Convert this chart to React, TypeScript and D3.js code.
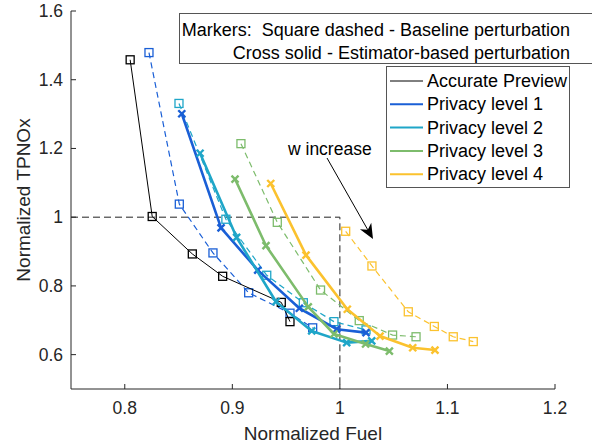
import React from "react";
import * as d3 from "d3";

// chart values
const accurateFuel = [0.805, 0.8255, 0.8628, 0.891, 0.9455, 0.9536];
const accurateTpnox = [1.458, 1.002, 0.893, 0.828, 0.752, 0.696];

const baseFuel1 = [0.8225, 0.8507, 0.882, 0.9152, 0.9536, 0.9747];
const baseTpnox1 = [1.479, 1.038, 0.896, 0.78, 0.7206, 0.678];
const estFuel1 = [0.853, 0.8895, 0.9236, 0.9623, 0.997, 1.0243];
const estTpnox1 = [1.301, 0.969, 0.846, 0.735, 0.674, 0.664];

const baseFuel2 = [0.8504, 0.894, 0.932, 0.966, 0.9945, 1.0243];
const baseTpnox2 = [1.331, 0.994, 0.831, 0.751, 0.696, 0.672];
const estFuel2 = [0.87, 0.904, 0.9406, 0.9738, 1.0063, 1.0296];
const estTpnox2 = [1.186, 0.941, 0.754, 0.669, 0.635, 0.64];

const baseFuel3 = [0.908, 0.9418, 0.982, 1.018, 1.049, 1.0708];
const baseTpnox3 = [1.214, 0.985, 0.788, 0.699, 0.657, 0.652];
const estFuel3 = [0.9025, 0.9313, 0.9706, 0.9945, 1.0239, 1.046];
const estTpnox3 = [1.111, 0.917, 0.739, 0.66, 0.631, 0.6105];

const baseFuel4 = [1.0054, 1.0298, 1.0636, 1.0878, 1.1054, 1.124];
const baseTpnox4 = [0.959, 0.858, 0.7247, 0.682, 0.652, 0.638];
const estFuel4 = [0.9357, 0.9685, 1.0069, 1.0373, 1.0677, 1.0884];
const estTpnox4 = [1.098, 0.8895, 0.732, 0.654, 0.62, 0.6134];

const legendLabels = ["Accurate Preview", "Privacy level 1", "Privacy level 2", "Privacy level 3", "Privacy level 4"];
const xTicks = [0.8, 0.9, 1, 1.1, 1.2];
const yTicks = [0.6, 0.8, 1, 1.2, 1.4, 1.6];

const colors = ["#000000", "#1a5fd6", "#1fa6c8", "#7dbc6c", "#fbc22e"];

const zip = (xs: number[], ys: number[]) => xs.map((x, i) => [x, ys[i]] as [number, number]);

const levels = [
  { base: zip(baseFuel1, baseTpnox1), est: zip(estFuel1, estTpnox1), color: colors[1] },
  { base: zip(baseFuel2, baseTpnox2), est: zip(estFuel2, estTpnox2), color: colors[2] },
  { base: zip(baseFuel3, baseTpnox3), est: zip(estFuel3, estTpnox3), color: colors[3] },
  { base: zip(baseFuel4, baseTpnox4), est: zip(estFuel4, estTpnox4), color: colors[4] },
];
const accurate = zip(accurateFuel, accurateTpnox);

const font = "'Liberation Sans', Arial, Helvetica, sans-serif";
const axisColor = "#262626";

export default function App() {
  const width = 592;
  const height = 446;

  const x = d3.scaleLinear().domain([0.75, 1.2]).range([71, 555]);
  const y = d3.scaleLinear().domain([0.5, 1.6]).range([389, 11]);

  const line = d3
    .line<[number, number]>()
    .x((d) => x(d[0]))
    .y((d) => y(d[1]));

  const square = (d: [number, number], color: string, key: string) => (
    <rect
      key={key}
      x={x(d[0]) - 4}
      y={y(d[1]) - 4}
      width={8}
      height={8}
      fill="none"
      stroke={color}
      strokeWidth={1.3}
    />
  );

  const cross = (d: [number, number], color: string, key: string) => (
    <path
      key={key}
      transform={`translate(${x(d[0])},${y(d[1])})`}
      d="M-3.5,-3.5L3.5,3.5M-3.5,3.5L3.5,-3.5"
      stroke={color}
      strokeWidth={2.4}
      fill="none"
    />
  );

  // arrow for "w increase"
  const ax0 = 327, ay0 = 158, ax1 = 373, ay1 = 239;
  const ang = Math.atan2(ay1 - ay0, ax1 - ax0);
  const hl = 15, hw = 6.5;
  const bx = ax1 - hl * Math.cos(ang), by = ay1 - hl * Math.sin(ang);
  const mx = ax1 - hl * 0.7 * Math.cos(ang), my = ay1 - hl * 0.7 * Math.sin(ang);
  const px = -Math.sin(ang), py = Math.cos(ang);
  const head = `M${ax1},${ay1}L${bx + px * hw},${by + py * hw}L${mx},${my}L${bx - px * hw},${by - py * hw}Z`;

  return (
    <svg
      width={width}
      height={height}
      style={{ position: "absolute", left: 0, top: 0, background: "#fff" }}
      fontFamily={font}
    >
      {/* threshold dashed lines */}
      <path
        d={`M${x(0.75)},${y(1)}H${x(1)}V${y(0.5)}`}
        fill="none"
        stroke="#222"
        strokeWidth={1}
        strokeDasharray="7,4"
      />

      {/* baseline perturbation: dashed with squares */}
      {levels.map((lv, i) => (
        <g key={"b" + i}>
          <path d={line(lv.base) || ""} fill="none" stroke={lv.color} strokeWidth={1.2} strokeDasharray="6,4" />
          {lv.base.map((d, j) => square(d, lv.color, "bs" + i + j))}
        </g>
      ))}

      {/* accurate preview */}
      <path d={line(accurate) || ""} fill="none" stroke="#000" strokeWidth={1} />
      {accurate.map((d, j) => square(d, "#000", "a" + j))}

      {/* estimator-based: solid with crosses */}
      {levels.map((lv, i) => (
        <g key={"e" + i}>
          <path d={line(lv.est) || ""} fill="none" stroke={lv.color} strokeWidth={2.6} strokeLinejoin="round" />
          {lv.est.map((d, j) => cross(d, lv.color, "ec" + i + j))}
        </g>
      ))}

      {/* axes */}
      <g fill={axisColor} fontSize={17.5}>
        <line x1={x(0.75)} x2={x(1.2)} y1={y(0.5)} y2={y(0.5)} stroke={axisColor} strokeWidth={1} />
        <line x1={x(0.75)} x2={x(0.75)} y1={y(0.5)} y2={y(1.6)} stroke={axisColor} strokeWidth={1} />
        {xTicks.map((t) => (
          <g key={"xt" + t}>
            <line x1={x(t)} x2={x(t)} y1={y(0.5)} y2={y(0.5) - 5} stroke={axisColor} />
            <text x={x(t)} y={y(0.5) + 25} textAnchor="middle">
              {d3.format("~g")(t)}
            </text>
          </g>
        ))}
        {yTicks.map((t) => (
          <g key={"yt" + t}>
            <line x1={x(0.75)} x2={x(0.75) + 5} y1={y(t)} y2={y(t)} stroke={axisColor} />
            <text x={x(0.75) - 8} y={y(t) + 6} textAnchor="end">
              {d3.format("~g")(t)}
            </text>
          </g>
        ))}
        <text x={313} y={440} textAnchor="middle" fontSize={19}>
          Normalized Fuel
        </text>
        <text transform={`translate(30,200) rotate(-90)`} textAnchor="middle" fontSize={19}>
          Normalized TPNOx
        </text>
      </g>

      {/* w increase annotation */}
      <text x={288} y={155} fontSize={17.5} fill="#000">
        w increase
      </text>
      <line x1={ax0} y1={ay0} x2={mx} y2={my} stroke="#000" strokeWidth={1} />
      <path d={head} fill="#000" />

      {/* markers note box */}
      <rect x={179.5} y={13.5} width={430} height={50} fill="#fff" stroke="#555" strokeWidth={1} />
      <text x={570} y={36} textAnchor="end" fontSize={18} fill="#000" xmlSpace="preserve">
        {"Markers:  Square dashed - Baseline perturbation"}
      </text>
      <text x={570} y={59} textAnchor="end" fontSize={18} fill="#000">
        Cross solid - Estimator-based perturbation
      </text>

      {/* legend */}
      <rect x={386.5} y={66.5} width={183} height={121} fill="#fff" stroke="#555" strokeWidth={1} />
      {legendLabels.map((lab, i) => {
        const cy = 81 + i * 23.3;
        return (
          <g key={"lg" + i}>
            <line x1={390} x2={423} y1={cy} y2={cy} stroke={colors[i]} strokeWidth={i === 0 ? 1 : 2} />
            <text x={427} y={cy + 6} fontSize={18} fill="#000">
              {lab}
            </text>
          </g>
        );
      })}
    </svg>
  );
}
